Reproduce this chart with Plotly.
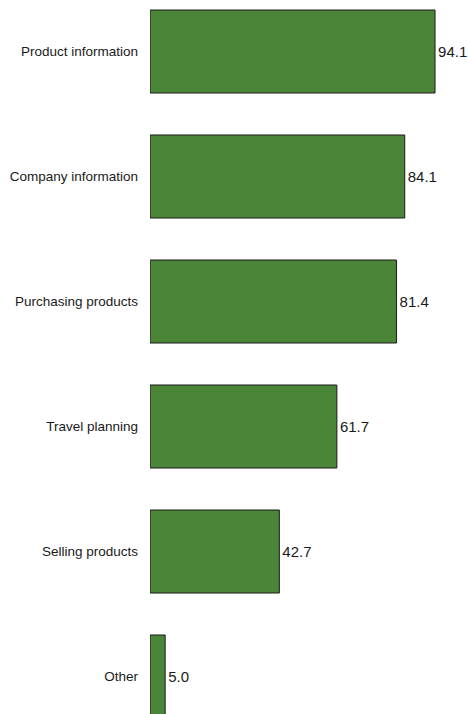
import plotly.graph_objects as go

categories = [
    "Product information",
    "Company information",
    "Purchasing products",
    "Travel planning",
    "Selling products",
    "Other",
]
values = [94.1, 84.1, 81.4, 61.7, 42.7, 5.0]
value_labels = [f"{v:.1f}" for v in values]

FONT = "Liberation Sans, Arial, sans-serif"

fig = go.Figure(
    go.Bar(
        x=values,
        y=categories,
        orientation="h",
        text=value_labels,
        textposition="outside",
        textfont=dict(family=FONT, size=15, color="#1a1a1a"),
        marker=dict(color="#4A8538", line=dict(color="#1a1a1a", width=1)),
        cliponaxis=False,
        hoverinfo="skip",
    )
)

fig.update_layout(
    width=468,
    height=714,
    margin=dict(l=150, r=0, t=0, b=0),
    paper_bgcolor="white",
    plot_bgcolor="white",
    showlegend=False,
    bargap=0.336,
    font=dict(family=FONT, size=13.5, color="#1a1a1a"),
)

fig.update_xaxes(
    range=[0, 318 / 3.029],
    showgrid=False,
    zeroline=False,
    showticklabels=False,
    showline=False,
    fixedrange=True,
)

fig.update_yaxes(
    type="category",
    categoryorder="array",
    categoryarray=categories,
    range=[5.300, -0.412],
    showgrid=False,
    zeroline=False,
    showline=False,
    ticks="",
    ticklabelstandoff=11,
    tickfont=dict(family=FONT, size=13.5, color="#1a1a1a"),
    fixedrange=True,
)

fig.write_html("out.html")
